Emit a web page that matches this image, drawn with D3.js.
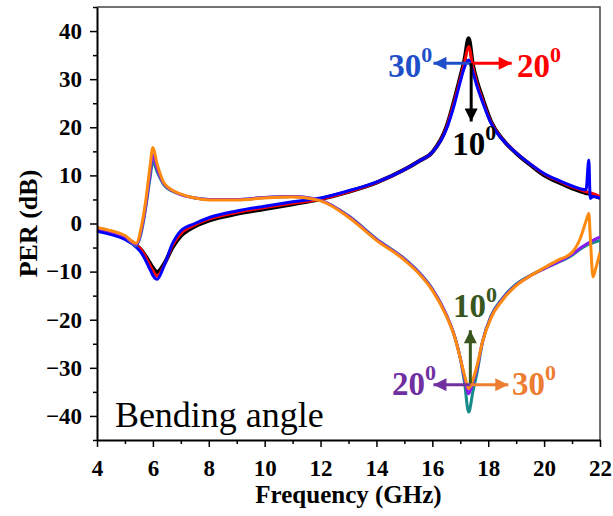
<!DOCTYPE html>
<html>
<head>
<meta charset="utf-8">
<script src="https://cdn.jsdelivr.net/npm/d3@7"></script>
<style>
  body { margin: 0; background: #fff; }
  svg text { font-family: "Liberation Serif", "Times New Roman", serif; }
</style>
</head>
<body>
<div class="vizcontainer"></div>
<script>
// frequency samples (GHz) shared by all curves
const freq = [4, 4.5, 5, 5.4, 5.6, 5.75, 5.9, 6.0, 6.15, 6.4, 6.7, 7, 7.5, 8, 9, 10, 11, 12, 13, 14,
  15, 15.5, 16, 16.5, 16.8, 17, 17.15, 17.3, 17.45, 17.6, 17.8, 18.1, 18.5, 19, 19.5, 20, 20.5, 21,
  21.3, 21.5, 21.6, 21.65, 21.75, 21.85, 22];

// upper group (peak)
const per10Up = [-1.3, -2.0, -3.0, -4.5, -5.6, -6.9, -8.3, -9.2, -10.1, -8.4, -5.0, -2.6, -0.6, 0.6, 2.0, 3.0, 4.0, 5.1, 6.6, 8.5,
  11.2, 12.9, 14.8, 20.0, 26.0, 30.5, 34.0, 38.5, 33.0, 29.5, 26.0, 21.2, 17.6, 14.6, 12.2, 10.0, 8.6, 7.3,
  6.7, 6.3, 6.2, 6.1, 5.9, 5.7, 5.3];
const per20Up = [-1.0, -1.8, -2.8, -4.4, -5.6, -7.1, -8.7, -9.8, -10.9, -8.7, -4.6, -2.1, -0.3, 0.9, 2.3, 3.3, 4.2, 5.1, 6.6, 8.5,
  11.2, 12.9, 14.8, 19.8, 25.6, 30.0, 33.5, 36.8, 32.5, 29.0, 25.6, 21.0, 17.6, 14.7, 12.4, 10.3, 8.9, 7.6,
  7.0, 6.6, 6.5, 6.4, 6.2, 6.0, 5.6];
const per30Up = [-1.6, -2.3, -3.3, -4.9, -6.2, -7.8, -9.6, -10.8, -11.6, -8.8, -4.2, -1.5, 0.0, 1.2, 2.6, 3.6, 4.5, 5.3, 6.8, 8.6,
  11.2, 12.9, 14.8, 19.6, 25.0, 29.5, 32.5, 34.0, 31.5, 28.5, 25.2, 20.8, 17.5, 14.7, 12.4, 10.4, 9.0, 7.8,
  7.2, 7.0, 13.2, 5.2, 5.6, 5.5, 5.3];

// lower group (dip)
const per10Down = [-0.9, -1.6, -2.6, -4.6, -1.5, 3.5, 9.5, 12.9, 10.8, 8.0, 6.7, 6.0, 5.3, 5.0, 5.0, 5.4, 5.6, 4.8, 1.6, -3.2,
  -7.3, -10.0, -13.6, -19.0, -23.5, -28.0, -33.0, -39.2, -35.0, -31.0, -24.5, -19.2, -15.6, -12.6, -10.8, -9.4, -8.1, -6.6,
  -5.3, -4.6, -4.3, -4.2, -4.0, -3.8, -3.5];
const per20Down = [-1.0, -1.7, -2.7, -4.4, -1.0, 4.0, 10.5, 14.3, 11.5, 8.2, 6.8, 6.0, 5.3, 5.0, 5.0, 5.4, 5.6, 4.8, 1.5, -3.3,
  -7.4, -10.1, -13.7, -19.0, -23.5, -28.0, -32.0, -35.4, -33.0, -30.0, -24.5, -19.4, -15.8, -12.8, -10.9, -9.4, -8.0, -6.4,
  -5.1, -4.3, -4.0, -3.8, -3.5, -3.2, -2.8];
const per30Down = [-0.8, -1.5, -2.5, -4.1, -0.3, 5.0, 12.0, 15.8, 12.4, 8.4, 6.9, 6.1, 5.3, 4.9, 4.9, 5.3, 5.5, 4.7, 1.3, -3.5,
  -7.6, -10.3, -13.9, -19.2, -23.6, -28.0, -31.5, -34.3, -32.5, -29.5, -24.5, -19.6, -16.0, -12.9, -10.9, -9.2, -7.6, -6.0,
  -3.0, 0.5, 2.1, -2.5, -11.1, -9.3, -6.0];

const xTicks = [4, 6, 8, 10, 12, 14, 16, 18, 20, 22];
const xMinor = [5, 7, 9, 11, 13, 15, 17, 19, 21];
const yTicks = [-40, -30, -20, -10, 0, 10, 20, 30, 40];
const yMinor = [-45, -35, -25, -15, -5, 5, 15, 25, 35, 45];

const series = [
  { name: "10up", values: per10Up, color: "#000000", width: 4 },
  { name: "20up", values: per20Up, color: "#ff0000", width: 3 },
  { name: "30up", values: per30Up, color: "#0000ff", width: 3 },
  { name: "10down", values: per10Down, color: "#168a88", width: 3 },
  { name: "20down", values: per20Down, color: "#8a1cf0", width: 3 },
  { name: "30down", values: per30Down, color: "#ff8a10", width: 3 }
];

// angle labels: [text, x, y, colour]
const labels = [
  ["30", 14.42, 30.5, "#1f4fc8"],
  ["20", 19.03, 30.5, "#ff0000"],
  ["10", 16.71, 14.2, "#000000"],
  ["10", 16.74, -19.5, "#38561d"],
  ["20", 14.56, -35.6, "#7030a0"],
  ["30", 18.85, -35.6, "#ed7d31"]
];
// arrows: [x1, y1, x2, y2, colour]
const arrows = [
  [17.39, 33.3, 16.04, 33.3, "#1f4fc8"],
  [17.39, 33.3, 18.84, 33.3, "#ff0000"],
  [17.39, 33.3, 17.39, 21.2, "#000000"],
  [17.36, -33.5, 17.36, -22.2, "#38561d"],
  [17.36, -33.5, 16.04, -33.5, "#7030a0"],
  [17.36, -33.5, 18.72, -33.5, "#ed7d31"]
];

const padding = { top: 7, left: 97, right: 13, bottom: 76 };
const W = 613, H = 516;

const svg = d3.select(".vizcontainer").append("svg")
  .attr("width", W).attr("height", H);

const x = d3.scaleLinear().domain([4, 22]).range([padding.left, W - padding.right]);
const y = d3.scaleLinear().domain([-45, 45]).range([H - padding.bottom, padding.top]);

svg.append("clipPath").attr("id", "plotclip").append("rect")
  .attr("x", x(4)).attr("y", y(45)).attr("width", x(22) - x(4)).attr("height", y(-45) - y(45));

// frame top + right
svg.append("path")
  .attr("d", `M${x(4)},${y(45)}H${x(22)}V${y(-45)}`)
  .attr("fill", "none").attr("stroke", "#444").attr("stroke-width", 1.5);

// curves
const line = d3.line().curve(d3.curveMonotoneX);
const plot = svg.append("g").attr("clip-path", "url(#plotclip)");
series.forEach(s => {
  plot.append("path")
    .attr("d", line(freq.map((f, i) => [x(f), y(s.values[i])])))
    .attr("fill", "none")
    .attr("stroke", s.color)
    .attr("stroke-width", s.width)
    .attr("stroke-linejoin", "round");
});

// axes
svg.append("g").attr("transform", `translate(0,${y(-45)})`)
  .call(d3.axisBottom(x).tickValues(xTicks).tickSize(7).tickSizeOuter(0).tickPadding(13).tickFormat(d3.format("d")));
svg.append("g").attr("transform", `translate(0,${y(-45)})`)
  .call(d3.axisBottom(x).tickValues(xMinor).tickSize(4).tickSizeOuter(0).tickFormat(""))
  .call(g => g.select(".domain").remove());

svg.append("g").attr("transform", `translate(${x(4)},0)`)
  .call(d3.axisLeft(y).tickValues(yTicks).tickSize(7).tickSizeOuter(0).tickPadding(8).tickFormat(d3.format("d")));
svg.append("g").attr("transform", `translate(${x(4)},0)`)
  .call(d3.axisLeft(y).tickValues(yMinor).tickSize(4).tickSizeOuter(0).tickFormat(""))
  .call(g => g.select(".domain").remove());

svg.selectAll(".domain").attr("stroke", "#000").attr("stroke-width", 2);
svg.selectAll(".tick line").attr("stroke", "#000").attr("stroke-width", 1.5);
svg.selectAll(".tick text")
  .attr("font-family", "Liberation Serif, Times New Roman, serif")
  .attr("font-size", 23).attr("font-weight", "bold").attr("fill", "#000");

// axis titles
svg.append("text")
  .attr("x", (x(4) + x(22)) / 2).attr("y", 503)
  .attr("text-anchor", "middle")
  .attr("font-size", 25).attr("font-weight", "bold")
  .text("Frequency (GHz)");

svg.append("text")
  .attr("transform", `translate(37,${y(0)}) rotate(-90)`)
  .attr("text-anchor", "middle")
  .attr("font-size", 26).attr("font-weight", "bold")
  .text("PER (dB)");

svg.append("text")
  .attr("x", x(4.64)).attr("y", y(-42.4))
  .attr("font-size", 36)
  .text("Bending angle");

// arrows
const defs = svg.append("defs");
arrows.forEach((a, i) => {
  defs.append("marker")
    .attr("id", "head" + i)
    .attr("viewBox", "0 0 10 10")
    .attr("refX", 10).attr("refY", 5)
    .attr("markerUnits", "userSpaceOnUse")
    .attr("markerWidth", 15).attr("markerHeight", 13)
    .attr("orient", "auto")
    .append("path").attr("d", "M0,0L10,5L0,10Z").attr("fill", a[4]);
});
svg.selectAll(".arrow")
  .data(arrows)
  .enter()
  .append("line")
  .attr("class", "arrow")
  .attr("x1", d => x(d[0])).attr("y1", d => y(d[1]))
  .attr("x2", d => x(d[2])).attr("y2", d => y(d[3]))
  .attr("stroke", d => d[4])
  .attr("stroke-width", 3)
  .attr("marker-end", (d, i) => `url(#head${i})`);

// angle labels with superscript 0
const lab = svg.selectAll(".anglelabel")
  .data(labels)
  .enter()
  .append("text")
  .attr("class", "anglelabel")
  .attr("x", d => x(d[1])).attr("y", d => y(d[2]))
  .attr("font-weight", "bold")
  .attr("fill", d => d[3]);
lab.append("tspan").attr("font-size", 33).text(d => d[0]);
lab.append("tspan").attr("font-size", 22).attr("dy", -15).text("0");
</script>
</body>
</html>
